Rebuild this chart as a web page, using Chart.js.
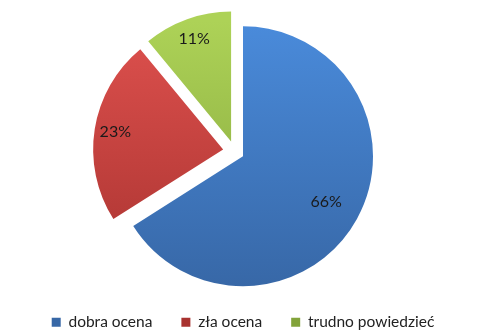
<!DOCTYPE html>
<html>
<head>
<meta charset="utf-8">
<script src="https://cdn.jsdelivr.net/npm/chart.js@4"></script>
<style>
  html, body { margin: 0; padding: 0; background: #fff; }
  #wrap { width: 500px; height: 333px; }
</style>
</head>
<body>
<div id="wrap"><canvas id="pieChart"></canvas></div>
<script>
// chart values
const categories = ['dobra ocena', 'zła ocena', 'trudno powiedzieć'];
const shares = [66, 23, 11];                 // percent of answers

// gradient colours (top, bottom) for each slice
const sliceColors = [
    ['#4a8bdb', '#3767a6'],
    ['#de514e', '#a8322f'],
    ['#add257', '#82a33a']
];
const explode = [0, 21, 19];                 // pulled-out distance in px
const explodeTilt = [0, 10, -19];            // direction tweak in degrees
const labelDepth = [0.73, 0.84, 0.84];       // label distance as fraction of radius

function sliceFill(context) {
    const chart = context.chart;
    const area = chart.chartArea;
    const c = sliceColors[context.dataIndex % sliceColors.length];
    if (!area) return c[0];
    const cy = (area.top + area.bottom) / 2;
    const g = chart.ctx.createLinearGradient(0, cy - 135, 0, cy + 135);
    g.addColorStop(0, c[0]);
    g.addColorStop(1, c[1]);
    return g;
}

// shift exploded slices outwards
const explodePlugin = {
    id: 'explode',
    afterDatasetUpdate(chart, args) {
        const meta = chart.getDatasetMeta(args.index);
        meta.data.forEach((arc, i) => {
            const dir = (arc.startAngle + arc.endAngle) / 2 + explodeTilt[i] * Math.PI / 180;
            arc.x += Math.cos(dir) * explode[i];
            arc.y += Math.sin(dir) * explode[i];
        });
    }
};

// percent labels inside the slices
const labelPlugin = {
    id: 'sliceLabels',
    afterDatasetsDraw(chart) {
        const ctx = chart.ctx;
        const meta = chart.getDatasetMeta(0);
        ctx.save();
        ctx.font = '16px Lato';
        ctx.fillStyle = '#1a1a1a';
        ctx.textAlign = 'center';
        ctx.textBaseline = 'middle';
        meta.data.forEach((arc, i) => {
            const mid = (arc.startAngle + arc.endAngle) / 2;
            const r = arc.outerRadius * labelDepth[i];
            ctx.fillText(shares[i] + '%', arc.x + Math.cos(mid) * r, arc.y + Math.sin(mid) * r);
        });
        ctx.restore();
    }
};

new Chart(document.getElementById('pieChart'), {
    type: 'pie',
    data: {
        labels: categories,
        datasets: [{
            data: shares,
            backgroundColor: sliceFill,
            borderWidth: 0,
            clip: false
        }]
    },
    options: {
        responsive: true,
        maintainAspectRatio: false,
        animation: false,
        radius: 130,
        layout: {
            padding: { top: 27, left: 0, right: 14, bottom: -7 }
        },
        plugins: {
            legend: {
                position: 'bottom',
                labels: {
                    boxWidth: 9,
                    boxHeight: 9,
                    padding: 29,
                    color: '#222',
                    font: { family: 'Lato', size: 15.5 }
                }
            },
            tooltip: { enabled: false }
        }
    },
    plugins: [explodePlugin, labelPlugin]
});
</script>
</body>
</html>
